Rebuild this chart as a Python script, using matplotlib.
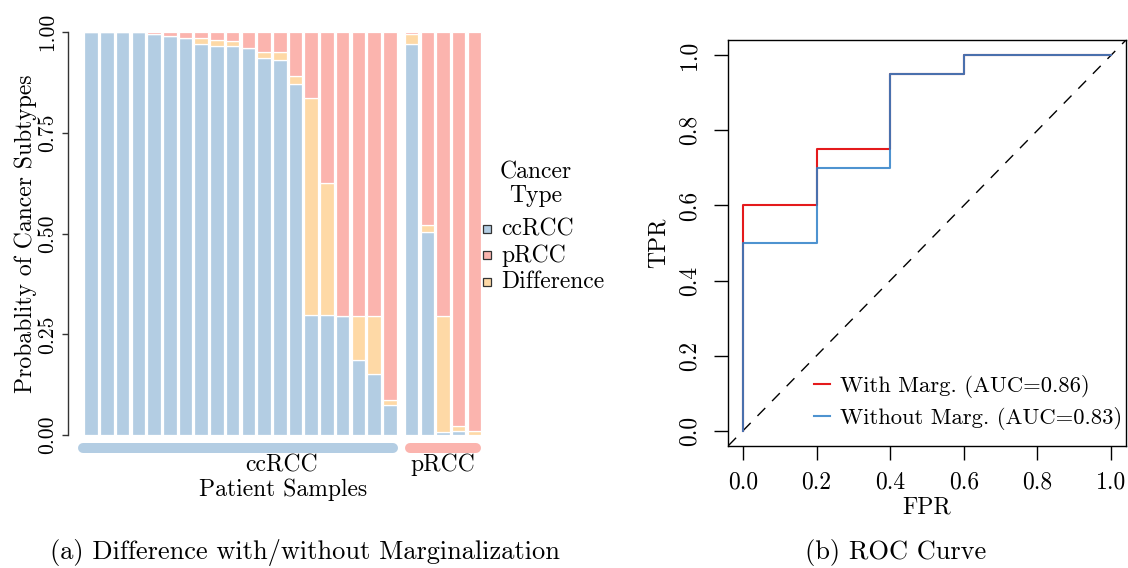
import matplotlib
matplotlib.use("Agg")
import matplotlib.pyplot as plt
from matplotlib.patches import Rectangle
import numpy as np

plt.rcParams['font.family'] = ['cmr10', 'DejaVu Serif']
plt.rcParams['axes.formatter.use_mathtext'] = True

# ---------------- data ----------------
cc_ccrcc = [1.0, 1.0, 1.0, 1.0, 0.995, 0.991, 0.986, 0.971, 0.966, 0.965,
            0.960, 0.935, 0.931, 0.871, 0.298, 0.298, 0.295, 0.186, 0.151, 0.074]
cc_diff = [0.0, 0.0, 0.0, 0.0, 0.0, 0.0, 0.0, 0.015, 0.015, 0.012,
           0.0, 0.016, 0.019, 0.021, 0.537, 0.328, 0.0, 0.109, 0.144, 0.013]
p_ccrcc = [0.971, 0.504, 0.008, 0.010, 0.0]
p_diff = [0.023, 0.017, 0.287, 0.013, 0.011]
y_ticks = [0.0, 0.25, 0.5, 0.75, 1.0]
y_ticklabels = ["0.00", "0.25", "0.50", "0.75", "1.00"]
legend_labels = ["ccRCC", "pRCC", "Difference"]
group_labels = ["ccRCC", "pRCC"]

fpr = [0.0, 0.0, 0.2, 0.2, 0.4, 0.4, 0.6, 0.6, 1.0]
tpr_with = [0.0, 0.6, 0.6, 0.75, 0.75, 0.95, 0.95, 1.0, 1.0]
tpr_without = [0.0, 0.5, 0.5, 0.7, 0.7, 0.95, 0.95, 1.0, 1.0]
auc_with = 0.86
auc_without = 0.83
roc_ticks = [0.0, 0.2, 0.4, 0.6, 0.8, 1.0]

C_BLUE = '#B3CDE3'
C_PINK = '#FBB4AE'
C_ORANGE = '#FED9A6'

W, H = 1128, 568
fig = plt.figure(figsize=(W / 100, H / 100), dpi=100)


def fx(px):
    return px / W


def fy(py):
    return 1 - py / H


def axrect(l, t, r, b):
    return [fx(l), fy(b), fx(r) - fx(l), fy(t) - fy(b)]


# ---------------- left panel ----------------
ax1 = fig.add_axes(axrect(68, 32, 490, 435))
n_cc = len(cc_ccrcc)
x_cc = np.arange(n_cc)
x_p = n_cc + 0.39 + np.arange(len(p_ccrcc))
xs = np.concatenate([x_cc, x_p])
blue = np.array(cc_ccrcc + p_ccrcc)
diff = np.array(cc_diff + p_diff)
pink = 1 - blue - diff

bw = 0.86
kw = dict(width=bw, edgecolor='white', linewidth=0.9)
ax1.bar(xs, blue, color=C_BLUE, **kw)
ax1.bar(xs, diff, bottom=blue, color=C_ORANGE, **kw)
ax1.bar(xs, pink, bottom=blue + diff, color=C_PINK, **kw)

ax1.set_xlim(-1.477, 25.38)
ax1.set_ylim(0, 1)
for s in ['top', 'right', 'bottom']:
    ax1.spines[s].set_visible(False)
ax1.spines['left'].set_color('#333333')
ax1.spines['left'].set_linewidth(1.0)
ax1.set_xticks([])
ax1.set_yticks(y_ticks)
ax1.set_yticklabels(y_ticklabels, rotation=90, va='center', fontsize=15.5)
ax1.tick_params(axis='y', length=4.5, width=1.0, color='#333333', pad=3)
ax1.set_ylabel("Probablity of Cancer Subtypes", fontsize=17, labelpad=1)

# group bars below
gy = -0.0315
ax1.plot([x_cc[0] - 0.55, x_cc[-1] + 0.2], [gy, gy], color=C_BLUE, lw=7.2,
         solid_capstyle='round', clip_on=False)
ax1.plot([x_p[0] - 0.1, x_p[-1] + 0.1], [gy, gy], color=C_PINK, lw=7.2,
         solid_capstyle='round', clip_on=False)
fig.text(fx(282), fy(465), group_labels[0], ha='center', va='center', fontsize=17)
fig.text(fx(443), fy(465), group_labels[1], ha='center', va='center', fontsize=17)
fig.text(fx(283), fy(490), "Patient Samples", ha='center', va='center', fontsize=17)

# legend
fig.text(fx(536), fy(172.5), "Cancer", ha='center', va='center', fontsize=17)
fig.text(fx(536), fy(196), "Type", ha='center', va='center', fontsize=17)
for yy, col, lab in zip([229, 255.5, 282], [C_BLUE, C_PINK, C_ORANGE], legend_labels):
    fig.add_artist(Rectangle((fx(483), fy(yy + 4)), fx(8), 8 / H,
                             facecolor=col, edgecolor='#333333', linewidth=0.9,
                             transform=fig.transFigure))
    fig.text(fx(501.5), fy(yy), lab, ha='left', va='center', fontsize=17)

fig.text(fx(305), fy(553), "(a) Difference with/without Marginalization",
         ha='center', va='center', fontsize=19)

# ---------------- right panel ----------------
ax2 = fig.add_axes(axrect(728.3, 40.3, 1125.7, 445.7))
ax2.plot([-0.04, 1.04], [-0.04, 1.04], color='black', lw=1.0,
         dashes=(8, 7))
ax2.plot(fpr, tpr_with, color='#E41A1C', lw=1.5,
         label="With Marg. (AUC=%.2f)" % auc_with)
ax2.plot(fpr, tpr_without, color='#2F80C8', lw=1.5, alpha=0.85,
         label="Without Marg. (AUC=%.2f)" % auc_without)
ax2.set_xlim(-0.04, 1.04)
ax2.set_ylim(-0.04, 1.04)
ax2.set_xticks(roc_ticks)
ax2.set_yticks(roc_ticks)
ax2.set_xticklabels(["%.1f" % t for t in roc_ticks], fontsize=17)
ax2.set_yticklabels(["%.1f" % t for t in roc_ticks], fontsize=17,
                    rotation=90, va='center')
ax2.tick_params(length=10, width=1.0)
ax2.tick_params(axis='x', pad=8.5)
ax2.tick_params(axis='y', pad=10)
for s in ax2.spines.values():
    s.set_linewidth(1.0)
ax2.set_xlabel("FPR", fontsize=17, labelpad=2)
ax2.set_ylabel("TPR", fontsize=17, labelpad=6)
leg = ax2.legend(loc='lower right', frameon=False, fontsize=16.3,
                 handlelength=0.68, handletextpad=0.45, labelspacing=0.38,
                 borderaxespad=0, borderpad=0,
                 bbox_to_anchor=(fx(1122), fy(430)),
                 bbox_transform=fig.transFigure)

fig.text(fx(805), fy(553), "(b) ROC Curve", ha='left', va='center', fontsize=19)

fig.savefig("out.png", dpi=100)
